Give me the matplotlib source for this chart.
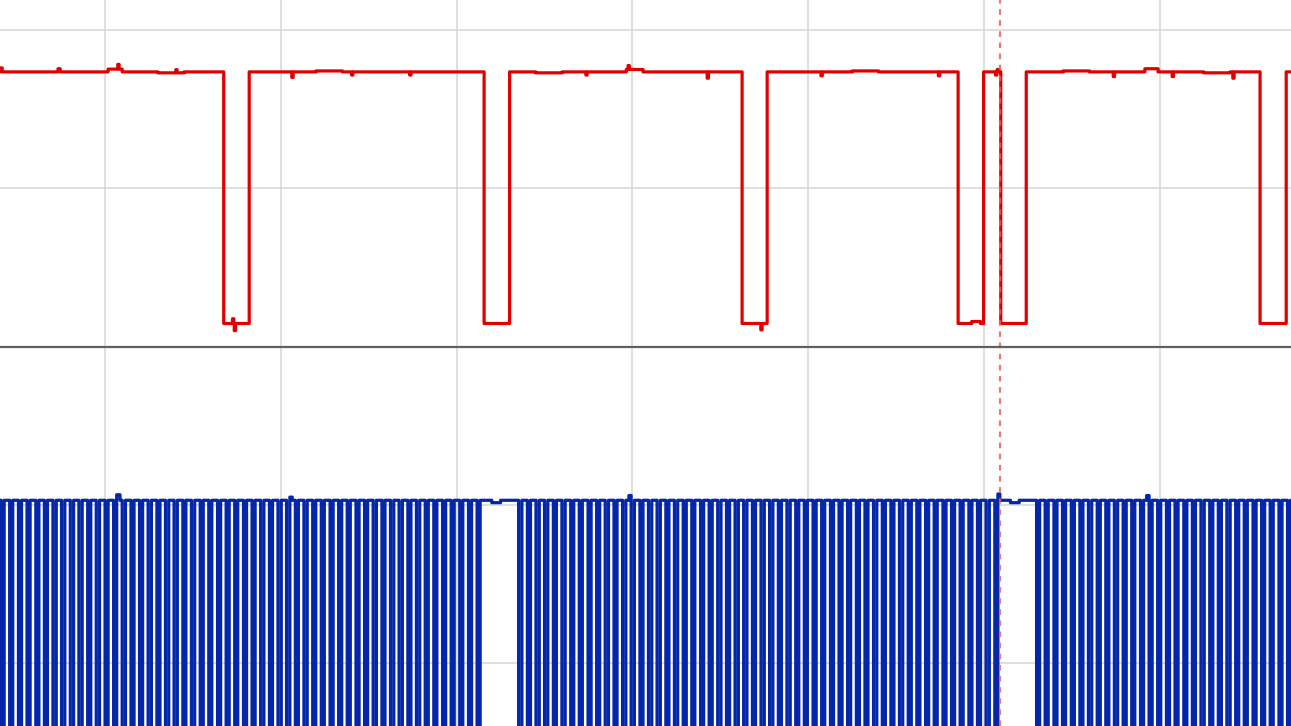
import numpy as np
import matplotlib
matplotlib.use("Agg")
import matplotlib.pyplot as plt

# ------------------------------------------
# Data (time in µs, levels in V)
# ------------------------------------------

# visible time window
t_start, t_end = 80.6, 1549.3
grid_times = [200, 400, 600, 800, 1000, 1200, 1400]
cursor_time = 1218.3

# red channel: high / low levels and the low intervals (fall, rise)
red_high, red_low = 3.47, 0.285
red_lows = [(334.9, 363.9), (631.2, 660.3), (924.8, 953.2),
            (1170.5, 1199.5), (1218.9, 1247.9), (1514.1, 1543.7)]
# small glitches on the red trace (start, end, offset V)
red_glitches = [(80.6, 83.0, 0.05), (146.6, 149.0, 0.04), (203.5, 219.4, 0.035),
                (214.5, 216.0, 0.06), (280.5, 282.0, 0.04), (412.5, 414.0, -0.07),
                (480.5, 482.0, -0.04), (546.5, 548.0, -0.04), (347.0, 348.5, -0.09),
                (345.0, 346.5, 0.06), (747.0, 748.5, -0.04), (793.0, 812.0, 0.03),
                (795.0, 796.5, 0.05), (885.0, 886.5, -0.08), (946.0, 947.5, -0.08),
                (1014.5, 1016.0, -0.05), (1148.0, 1149.5, -0.05), (1347.0, 1348.5, -0.06),
                (1383.0, 1398.0, 0.04), (1414.0, 1415.5, -0.06), (1483.0, 1484.5, -0.08),
                (1186.0, 1196.0, 0.025), (1215.0, 1217.0, 0.03), (1213.0, 1214.5, -0.04),
                (260.0, 290.0, -0.012), (440.0, 470.0, 0.012), (690.0, 720.0, -0.012),
                (1290.0, 1320.0, 0.012), (1450.0, 1480.0, -0.012), (1050.0, 1080.0, 0.012)]

# blue channel: clock high level, pulses drop to 0 V
blue_high, blue_low = 4.06, 0.0
pulse_width = 3.6
burst_a = [83.5, 93.3, 103.2, 113.0, 122.9, 132.7, 142.6, 152.4, 162.3, 172.1,
           182.0, 191.8, 201.7, 211.5, 221.3, 231.2, 241.0, 250.9, 260.7, 270.6,
           280.4, 290.3, 300.1, 310.0, 319.8, 329.7, 339.5, 349.3, 359.2, 369.0,
           378.9, 388.7, 398.6, 408.4, 418.3, 428.1, 438.0, 447.8, 457.7, 467.5,
           477.3, 487.2, 497.0, 506.9, 516.7, 526.6, 536.4, 546.3, 556.1, 566.0,
           575.8, 585.7, 595.5, 605.3, 615.2, 625.0]
burst_b = [672.4, 682.2, 692.1, 701.9, 711.8, 721.6, 731.5, 741.3, 751.2, 761.0,
           770.9, 780.7, 790.6, 800.4, 810.2, 820.1, 829.9, 839.8, 849.6, 859.5,
           869.3, 879.2, 889.0, 898.9, 908.7, 918.6, 928.4, 938.2, 948.1, 957.9,
           967.8, 977.6, 987.5, 997.3, 1007.2, 1017.0, 1026.9, 1036.7, 1046.5, 1056.4,
           1066.2, 1076.1, 1085.9, 1095.8, 1105.6, 1115.5, 1125.3, 1135.2, 1145.0, 1154.9,
           1164.7, 1174.5, 1184.4, 1194.2, 1204.1, 1213.9]
burst_c = [1261.5, 1271.3, 1281.2, 1291.0, 1300.9, 1310.7, 1320.6, 1330.4, 1340.3, 1350.1,
           1360.0, 1369.8, 1379.7, 1389.5, 1399.3, 1409.2, 1419.0, 1428.9, 1438.7, 1448.6,
           1458.4, 1468.3, 1478.1, 1488.0, 1497.8, 1507.7, 1517.5, 1527.3, 1537.2, 1547.0]
blue_glitches = [(213.0, 217.0, 0.07), (796.0, 799.0, 0.06), (1215.0, 1218.0, 0.08),
                 (1385.0, 1389.0, 0.06), (410.0, 413.0, 0.04), (605.0, 607.0, 0.04),
                 (640.0, 650.0, -0.03), (1230.0, 1240.0, -0.03)]

# ------------------------------------------
# Build traces (sampled on a fine time base)
# ------------------------------------------

t = np.arange(t_start - 5, t_end + 5, 0.25)

red = np.full_like(t, red_high)
for fall, rise in red_lows:
    red[(t >= fall) & (t < rise)] = red_low
for a, b, dv in red_glitches:
    red[(t >= a) & (t < b)] += dv

blue = np.full_like(t, blue_high)
for a, b, dv in blue_glitches:
    blue[(t >= a) & (t < b)] += dv
for c in burst_a + burst_b + burst_c:
    blue[(t >= c - pulse_width / 2) & (t < c + pulse_width / 2)] = blue_low

# ------------------------------------------
# Plot
# ------------------------------------------

W, H = 1291, 726
fig = plt.figure(figsize=(W / 100, H / 100), dpi=100)
split = 347.5 / H
ax_top = fig.add_axes([0, 1 - split, 1, split])
ax_bot = fig.add_axes([0, 0, 1, 1 - split])

grid_kw = dict(color='#d6d6d6', linewidth=1.1, zorder=0)
for ax in (ax_top, ax_bot):
    ax.set_xlim(t_start, t_end)
    for gt in grid_times:
        ax.axvline(gt, **grid_kw)
    ax.set_xticks([])
    ax.set_yticks([])
    for s in ax.spines.values():
        s.set_visible(False)
    ax.axvline(cursor_time, color='#e66060', alpha=0.85, linewidth=1.6,
               linestyle=(0, (2.5, 2.5)), zorder=4)

ax_top.set_ylim(-0.019, 4.38)
for gy in [2, 4]:
    ax_top.axhline(gy, **grid_kw)
ax_top.plot(t, red, color='#e00000', linewidth=2.3, drawstyle='steps-post', zorder=3)

ax_bot.set_ylim(1.203, 5.994)
for gy in [2, 4]:
    ax_bot.axhline(gy, **grid_kw)
ax_bot.plot(t, blue, color='#0326aa', linewidth=2.3, drawstyle='steps-post', zorder=3)
# grey separator between the two channels
ax_bot.axhline(5.994, color='#606060', linewidth=1.6, zorder=5, clip_on=False)

fig.savefig('out.png', dpi=100)
